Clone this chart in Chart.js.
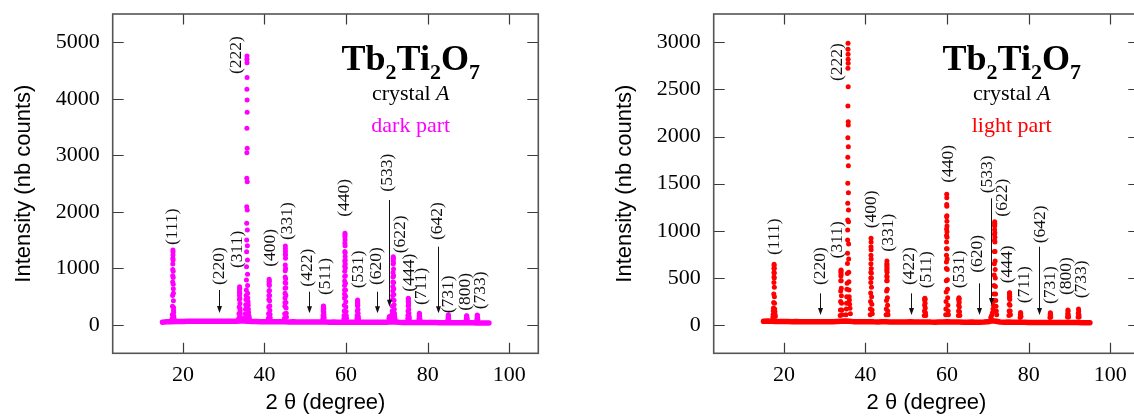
<!DOCTYPE html>
<html>
<head>
  <title>Tb2Ti2O7 crystal A - X-ray diffraction</title>
  <script src="https://cdn.jsdelivr.net/npm/chart.js"></script>
  <style>
    body { margin: 0; background: #fff; }
    #wrap { position: relative; width: 1134px; height: 416px; overflow: hidden; }
    canvas { position: absolute; top: 0; }
    #darkChart { left: 0; }
    #lightChart { left: 601px; }
  </style>
</head>
<body>
  <div id="wrap">
    <canvas id="darkChart" width="560" height="416"></canvas>
    <canvas id="lightChart" width="560" height="416"></canvas>
  </div>

  <script>
    // ---- data ----
    const hkl = ["(111)", "(220)", "(311)", "(222)", "(400)", "(331)", "(422)", "(511)", "(440)", "(531)",
                 "(620)", "(533)", "(622)", "(444)", "(711)", "(642)", "(731)", "(800)", "(733)"];

    // background of the scan, 2theta in degrees
    const baseTheta = [15, 16, 17, 18, 19, 20, 21, 22, 23, 24, 25, 26, 27, 28, 29, 30, 31, 32, 33, 34, 35,
                       36, 37, 38, 39, 40, 41, 42, 43, 44, 45, 46, 47, 48, 49, 50, 51, 52, 53, 54, 55,
                       56, 57, 58, 59, 60, 61, 62, 63, 64, 65, 66, 67, 68, 69, 70, 71, 72, 73, 74, 75,
                       76, 77, 78, 79, 80, 81, 82, 83, 84, 85, 86, 87, 88, 89, 90, 91, 92, 93, 94, 95];
    const darkBase = [50, 56, 60, 62, 63, 64, 65, 66, 67, 66, 68, 67, 68, 68, 67, 68, 68, 67, 68, 70, 72,
                      68, 64, 62, 60, 60, 59, 57, 58, 57, 57, 55, 56, 55, 54, 54, 53, 53, 53, 52, 52,
                      51, 52, 51, 51, 51, 50, 51, 49, 50, 49, 48, 48, 49, 48, 50, 56, 54, 48, 46, 46,
                      45, 46, 44, 45, 44, 43, 43, 42, 42, 42, 41, 41, 40, 40, 40, 39, 38, 38, 37, 36];
    const lightBase = [40, 42, 40, 38, 38, 37, 37, 36, 37, 36, 36, 35, 36, 35, 35, 36, 35, 36, 38, 40, 42,
                       40, 36, 35, 34, 35, 36, 34, 33, 34, 35, 33, 32, 33, 32, 33, 34, 32, 31, 32, 33,
                       31, 30, 31, 32, 34, 32, 31, 32, 30, 30, 31, 30, 30, 31, 34, 45, 40, 32, 30, 31,
                       30, 29, 30, 29, 28, 28, 28, 27, 27, 28, 27, 26, 26, 27, 26, 26, 27, 25, 25, 24];

    // Bragg peaks, [2theta, counts]
    const darkPeaks = [
      [17.35,110],[17.4,180],[17.45,330],[17.48,520],[17.5,760],[17.51,870],[17.52,980],[17.53,1080],[17.54,1180],
      [17.56,1326],[17.57,1240],[17.58,1290],[17.6,1150],[17.62,950],[17.63,840],[17.64,720],[17.66,640],[17.67,560],
      [17.68,430],[17.7,310],[17.72,260],[17.74,220],[17.78,160],[17.85,110],
      [33.7,120],[33.75,200],[33.8,320],[33.84,450],[33.86,520],[33.87,580],[33.88,630],[33.9,678],[33.92,650],
      [33.94,560],[33.96,470],[33.98,380],[34.0,290],[34.02,250],[34.05,200],[34.1,140],[34.2,100],
      [35.2,130],[35.3,200],[35.35,280],[35.4,360],[35.45,450],[35.5,520],[35.55,619],[35.58,796],[35.6,1032],
      [35.62,1297],[35.63,1504],[35.64,1798],[35.65,2093],[35.66,2594],[35.67,3048],[35.68,3479],[35.69,4169],
      [35.7,4699],[35.71,4758],[35.72,4640],[35.73,4375],[35.74,3980],[35.75,3762],[35.76,3125],[35.77,2535],
      [35.78,2034],[35.79,1680],[35.8,1400],[35.82,1150],[35.84,900],[35.86,700],[35.88,560],[35.9,480],
      [35.93,420],[35.96,380],[36.0,340],[36.05,280],[36.1,220],[36.2,160],[36.3,120],
      [40.95,120],[41.0,200],[41.04,320],[41.07,450],[41.09,520],[41.1,600],[41.12,720],[41.13,760],[41.15,808],
      [41.17,780],[41.19,700],[41.21,610],[41.23,520],[41.25,430],[41.28,340],[41.31,260],[41.35,190],[41.4,130],
      [44.9,120],[44.95,200],[45.0,330],[45.02,400],[45.03,480],[45.04,560],[45.05,650],[45.06,750],[45.07,850],
      [45.08,960],[45.09,1060],[45.1,1250],[45.11,1397],[45.12,1350],[45.13,1300],[45.14,1240],[45.15,1180],
      [45.17,1000],[45.19,820],[45.2,740],[45.21,660],[45.23,520],[45.26,400],[45.29,300],[45.33,210],[45.38,140],
      [54.3,110],[54.35,170],[54.39,240],[54.4,270],[54.42,300],[54.44,330],[54.45,336],[54.48,320],[54.5,300],
      [54.51,280],[54.54,230],[54.58,180],[54.63,130],
      [59.45,110],[59.5,170],[59.54,250],[59.57,350],[59.6,480],[59.61,550],[59.62,620],[59.63,700],[59.64,780],
      [59.65,860],[59.66,950],[59.67,1040],[59.68,1130],[59.69,1300],[59.7,1450],[59.71,1560],[59.72,1622],
      [59.73,1590],[59.74,1510],[59.75,1400],[59.76,1280],[59.77,1210],[59.78,1150],[59.79,1080],[59.8,1010],
      [59.82,870],[59.84,740],[59.86,620],[59.88,510],[59.91,410],[59.94,320],[59.98,240],[60.03,170],[60.1,120],
      [62.65,110],[62.7,170],[62.74,250],[62.77,340],[62.79,390],[62.8,420],[62.82,442],[62.84,410],[62.85,380],
      [62.87,350],[62.9,280],[62.94,210],[62.99,150],[63.05,110],
      [70.5,120],[70.6,150],[70.7,140],[70.85,130],[71.0,140],[71.2,180],[71.3,250],[71.35,330],[71.4,450],
      [71.42,520],[71.44,600],[71.45,680],[71.47,760],[71.49,850],[71.5,930],[71.52,1080],[71.53,1130],
      [71.54,1170],[71.56,1208],[71.58,1180],[71.6,1100],[71.62,990],[71.64,870],[71.66,750],[71.68,640],
      [71.7,540],[71.73,440],[71.76,360],[71.8,280],[71.85,210],[71.9,160],[72.0,110],
      [75.1,110],[75.14,170],[75.17,250],[75.2,340],[75.22,420],[75.24,460],[75.25,472],[75.27,450],[75.29,400],
      [75.31,370],[75.32,340],[75.35,280],[75.39,210],[75.44,150],[75.5,110],
      [77.85,110],[77.9,160],[77.93,200],[77.96,207],[78.0,180],[78.04,140],[78.1,100],
      [84.95,100],[85.0,140],[85.04,175],[85.07,177],[85.11,150],[85.16,110],
      [89.45,100],[89.5,140],[89.54,165],[89.58,160],[89.62,130],[89.68,100],
      [92.05,100],[92.1,145],[92.14,177],[92.18,170],[92.22,135],[92.28,100]
    ];

    const lightPeaks = [
      [17.3,80],[17.35,110],[17.4,150],[17.45,180],[17.5,240],[17.53,330],[17.56,450],[17.57,510],[17.58,560],
      [17.59,600],[17.6,644],[17.61,630],[17.62,600],[17.63,550],[17.64,500],[17.66,400],[17.68,300],[17.7,230],
      [17.74,170],[17.8,140],[17.85,110],[17.9,90],
      [33.8,100],[33.85,160],[33.89,250],[33.92,360],[33.95,470],[33.97,520],[33.98,560],[34.0,584],[34.01,575],
      [34.02,540],[34.04,470],[34.07,390],[34.1,310],[34.14,230],[34.19,160],[34.25,110],
      [35.2,110],[35.3,170],[35.35,230],[35.4,300],[35.45,380],[35.5,442],[35.55,548],[35.58,654],[35.6,761],
      [35.62,902],[35.63,1008],[35.64,1114],[35.65,1291],[35.66,1503],[35.67,1779],[35.68,1988],[35.69,2324],
      [35.7,2724],[35.71,2925],[35.72,2989],[35.73,2872],[35.74,2819],[35.75,2777],[35.76,2529],[35.77,2158],
      [35.78,2122],[35.79,1892],[35.8,1691],[35.81,1404],[35.82,1220],[35.84,1097],[35.86,860],[35.88,700],
      [35.9,560],[35.93,460],[35.96,371],[36.0,300],[36.05,265],[36.1,220],[36.2,177],[36.3,120],
      [41.15,110],[41.2,170],[41.24,250],[41.27,340],[41.3,450],[41.31,500],[41.32,560],[41.33,650],[41.34,740],
      [41.35,830],[41.36,920],[41.37,880],[41.38,800],[41.39,700],[41.41,600],[41.42,550],[41.43,500],[41.46,400],
      [41.5,300],[41.55,220],[41.6,160],[41.66,120],
      [45.05,110],[45.1,170],[45.14,260],[45.17,360],[45.2,470],[45.21,520],[45.22,580],[45.23,620],[45.24,650],
      [45.25,679],[45.27,640],[45.28,600],[45.29,560],[45.3,510],[45.31,470],[45.34,380],[45.37,290],[45.41,210],
      [45.46,150],[45.52,110],
      [54.4,100],[54.45,150],[54.49,210],[54.52,260],[54.54,280],[54.55,283],[54.58,270],[54.61,230],[54.65,180],
      [54.7,130],[54.76,100],
      [59.65,110],[59.7,170],[59.74,250],[59.77,350],[59.8,470],[59.82,600],[59.83,670],[59.84,740],[59.85,810],
      [59.86,880],[59.87,950],[59.88,1020],[59.89,1150],[59.9,1280],[59.91,1387],[59.92,1350],[59.93,1260],
      [59.94,1160],[59.95,1100],[59.96,1050],[59.97,990],[59.98,930],[60.0,810],[60.02,700],[60.04,590],
      [60.07,480],[60.1,380],[60.14,290],[60.19,210],[60.25,150],[60.32,110],
      [62.75,100],[62.8,150],[62.84,210],[62.87,260],[62.89,280],[62.9,290],[62.93,275],[62.96,240],[63.0,190],
      [63.05,140],[63.12,100],
      [70.7,80],[70.9,100],[71.1,130],[71.25,170],[71.35,210],[71.42,260],[71.47,330],[71.51,420],[71.54,530],
      [71.57,650],[71.6,780],[71.62,900],[71.63,960],[71.64,1010],[71.65,1050],[71.66,1097],[71.67,1080],
      [71.68,1060],[71.7,980],[71.71,930],[71.72,880],[71.74,780],[71.76,680],[71.78,590],[71.81,500],
      [71.84,410],[71.88,330],[71.93,260],[71.99,200],[72.06,150],[72.15,110],
      [75.15,100],[75.2,150],[75.24,220],[75.27,290],[75.29,330],[75.3,343],[75.32,340],[75.33,320],[75.35,300],
      [75.36,270],[75.4,210],[75.45,150],[75.52,110],
      [77.9,80],[77.95,110],[78.0,134],[78.05,120],[78.1,90],
      [85.2,80],[85.25,110],[85.3,131],[85.35,115],[85.4,85],
      [89.5,85],[89.55,120],[89.6,159],[89.65,145],[89.7,110],[89.76,85],
      [92.1,85],[92.15,125],[92.2,170],[92.25,150],[92.3,110],[92.36,85]
    ];

    // where each (hkl) label sits: 2theta of the label, counts at the start of the text
    const darkLabelTheta = [17.5, 28.9, 33.4, 33.1, 41.4, 45.5, 50.6, 54.85, 59.7, 63.0, 67.5, 70.1, 73.4, 75.4, 78.5, 82.35, 85.05, 89.3, 93.0];
    const darkLabelBase  = [1415, 707, 1008, 4439, 1031, 1503, 678, 530, 1915, 649, 707, 2358, 1268, 590, 354, 1503, 207, 253, 278];
    const lightLabelTheta = [17.6, 29.0, 33.0, 33.0, 41.5, 45.55, 50.75, 54.95, 60.35, 63.1, 67.4, 69.9, 73.65, 74.7, 78.95, 82.8, 85.3, 89.3, 92.9];
    const lightLabelBase  = [743, 424, 707, 2589, 1026, 778, 424, 389, 1510, 389, 555, 1397, 1150, 442, 230, 867, 223, 318, 283];

    // arrows for reflections without a visible peak
    const arrowHkl = ["(220)", "(422)", "(620)", "(533)", "(642)"];
    const darkArrowTheta = [28.95, 51.0, 67.66, 70.6, 82.4];
    const darkArrowFrom  = [619, 589, 589, 2210, 1385];
    const darkArrowTo    = [212, 207, 207, 324, 207];
    const lightArrowTheta = [28.95, 51.2, 67.8, 70.66, 82.6];
    const lightArrowFrom  = [336, 336, 442, 1344, 831];
    const lightArrowTo    = [106, 106, 106, 212, 106];

    // axes
    const xTickValues = [10, 20, 30, 40, 50, 60, 70, 80, 90, 100];
    const xTickLabels = [20, 40, 60, 80, 100];
    const darkYLabels = [0, 1000, 2000, 3000, 4000, 5000];
    const lightYLabels = [0, 500, 1000, 1500, 2000, 2500, 3000];

    const SERIF = '"Liberation Serif", "Times New Roman", serif';
    const SANS = '"Liberation Sans", Arial, sans-serif';

    function tickRange(lo, hi, step) {
      const out = [];
      for (let v = Math.ceil(lo / step) * step; v <= hi; v += step) out.push(v);
      return out;
    }

    // box with inward ticks on all four sides
    const framePlugin = {
      id: 'frame',
      afterDatasetsDraw(chart) {
        const { ctx, chartArea: a, scales: { x, y } } = chart;
        ctx.save();
        ctx.strokeStyle = '#3a3a3a';
        ctx.lineWidth = 1.2;
        ctx.beginPath();
        x.ticks.forEach(t => {
          const px = Math.round(x.getPixelForValue(t.value)) + 0.5;
          const len = t.label ? 10.5 : 5.5;
          ctx.moveTo(px, a.bottom); ctx.lineTo(px, a.bottom - len);
          ctx.moveTo(px, a.top); ctx.lineTo(px, a.top + len);
        });
        y.ticks.forEach(t => {
          const py = Math.round(y.getPixelForValue(t.value)) + 0.5;
          const len = t.label ? 11 : 6;
          ctx.moveTo(a.left, py); ctx.lineTo(a.left + len, py);
          ctx.moveTo(a.right, py); ctx.lineTo(a.right - len, py);
        });
        ctx.stroke();
        ctx.strokeStyle = '#555';
        ctx.lineWidth = 1.6;
        ctx.strokeRect(a.left, a.top, a.right - a.left, a.bottom - a.top);
        ctx.restore();
      }
    };

    // hkl labels, arrows and the text block
    function notesPlugin(panel) {
      return {
        id: 'notes',
        afterDatasetsDraw(chart) {
          const { ctx, chartArea: a, scales: { x, y } } = chart;
          ctx.save();
          ctx.fillStyle = '#111';
          ctx.font = '17.5px ' + SERIF;
          ctx.textAlign = 'left';
          ctx.textBaseline = 'middle';
          hkl.forEach((name, i) => {
            const px = x.getPixelForValue(panel.labelTheta[i]);
            const py = y.getPixelForValue(panel.labelBase[i]);
            ctx.save();
            ctx.translate(px, py);
            ctx.rotate(-Math.PI / 2);
            ctx.fillText(name, 0, 0);
            ctx.restore();
          });

          ctx.strokeStyle = '#111';
          ctx.lineWidth = 1;
          arrowHkl.forEach((name, i) => {
            const px = Math.round(x.getPixelForValue(panel.arrowTheta[i])) + 0.5;
            const y1 = y.getPixelForValue(panel.arrowFrom[i]);
            const y2 = y.getPixelForValue(panel.arrowTo[i]);
            ctx.beginPath();
            ctx.moveTo(px, y1);
            ctx.lineTo(px, y2 - 5);
            ctx.stroke();
            ctx.beginPath();
            ctx.moveTo(px - 2.5, y2 - 7);
            ctx.lineTo(px + 2.5, y2 - 7);
            ctx.lineTo(px, y2);
            ctx.closePath();
            ctx.fill();
          });

          // Tb2Ti2O7
          const cx = a.left + 298;
          const parts = [['Tb', false], ['2', true], ['Ti', false], ['2', true], ['O', false], ['7', true]];
          const mainFont = 'bold 36px ' + SERIF;
          const subFont = 'bold 22px ' + SERIF;
          let total = 0;
          parts.forEach(p => { ctx.font = p[1] ? subFont : mainFont; total += ctx.measureText(p[0]).width; });
          let tx = cx - total / 2;
          ctx.textBaseline = 'alphabetic';
          ctx.fillStyle = '#000';
          parts.forEach(p => {
            ctx.font = p[1] ? subFont : mainFont;
            ctx.fillText(p[0], tx, a.top + 56 + (p[1] ? 9 : 0));
            tx += ctx.measureText(p[0]).width;
          });

          // crystal A
          ctx.font = '22px ' + SERIF;
          const w1 = ctx.measureText('crystal ').width;
          ctx.font = 'italic 22px ' + SERIF;
          const w2 = ctx.measureText('A').width;
          let sx = cx - (w1 + w2) / 2;
          ctx.font = '22px ' + SERIF;
          ctx.fillText('crystal ', sx, a.top + 86);
          ctx.font = 'italic 22px ' + SERIF;
          ctx.fillText('A', sx + w1, a.top + 86);

          ctx.font = '22px ' + SERIF;
          ctx.textAlign = 'center';
          ctx.fillStyle = panel.color;
          ctx.fillText(panel.caption, cx, a.top + 118);
          ctx.restore();
        }
      };
    }

    function buildChart(canvasId, panel) {
      const yTicks = tickRange(panel.yMin + 1, panel.yMax - 1, panel.yMinor);
      return new Chart(document.getElementById(canvasId).getContext('2d'), {
        type: 'scatter',
        data: {
          datasets: [
            {
              data: baseTheta.map((t, i) => ({ x: t, y: panel.base[i] })),
              showLine: true,
              borderColor: panel.color,
              borderWidth: 5.5,
              borderCapStyle: 'round',
              borderJoinStyle: 'round',
              pointRadius: 0,
            },
            {
              data: panel.peaks.map(p => ({ x: p[0], y: p[1] })),
              backgroundColor: panel.color,
              borderWidth: 0,
              pointRadius: 2.5,
            },
          ],
        },
        options: {
          responsive: false,
          animation: false,
          events: [],
          layout: { padding: { top: 14, right: 21.7, bottom: 0, left: 0 } },
          plugins: { legend: { display: false }, tooltip: { enabled: false } },
          scales: {
            x: {
              type: 'linear',
              min: 2.8,
              max: 107.1,
              afterBuildTicks: s => { s.ticks = xTickValues.map(v => ({ value: v })); },
              afterFit: s => { s.height = 62.7; s.paddingLeft = 0; s.paddingRight = 0; },
              grid: { display: false, drawTicks: false },
              border: { display: false },
              ticks: {
                autoSkip: false, maxRotation: 0, padding: 9, color: '#000',
                font: { family: SERIF, size: 22 },
                callback: v => (xTickLabels.includes(v) ? String(v) : null),
              },
              title: {
                display: true, text: '2 θ (degree)', color: '#000',
                font: { family: SANS, size: 22 }, padding: { top: 0, bottom: 0 },
              },
            },
            y: {
              type: 'linear',
              min: panel.yMin,
              max: panel.yMax,
              afterBuildTicks: s => { s.ticks = yTicks.map(v => ({ value: v })); },
              afterFit: s => { s.width = 112.7; s.paddingTop = 0; s.paddingBottom = 0; },
              grid: { display: false, drawTicks: false },
              border: { display: false },
              ticks: {
                autoSkip: false, padding: 13, color: '#000',
                font: { family: SERIF, size: 22 },
                callback: v => (panel.yLabels.includes(v) ? String(v) : null),
              },
              title: {
                display: true, text: 'Intensity (nb counts)', color: '#000',
                font: { family: SANS, size: 22 }, padding: { top: 11, bottom: 0 },
              },
            },
          },
        },
        plugins: [framePlugin, notesPlugin(panel)],
      });
    }

    buildChart('darkChart', {
      color: '#ff00ff', caption: 'dark part',
      base: darkBase, peaks: darkPeaks,
      labelTheta: darkLabelTheta, labelBase: darkLabelBase,
      arrowTheta: darkArrowTheta, arrowFrom: darkArrowFrom, arrowTo: darkArrowTo,
      yMin: -500, yMax: 5500, yMinor: 200, yLabels: darkYLabels,
    });

    buildChart('lightChart', {
      color: '#ff0000', caption: 'light part',
      base: lightBase, peaks: lightPeaks,
      labelTheta: lightLabelTheta, labelBase: lightLabelBase,
      arrowTheta: lightArrowTheta, arrowFrom: lightArrowFrom, arrowTo: lightArrowTo,
      yMin: -300, yMax: 3300, yMinor: 100, yLabels: lightYLabels,
    });
  </script>
</body>
</html>
